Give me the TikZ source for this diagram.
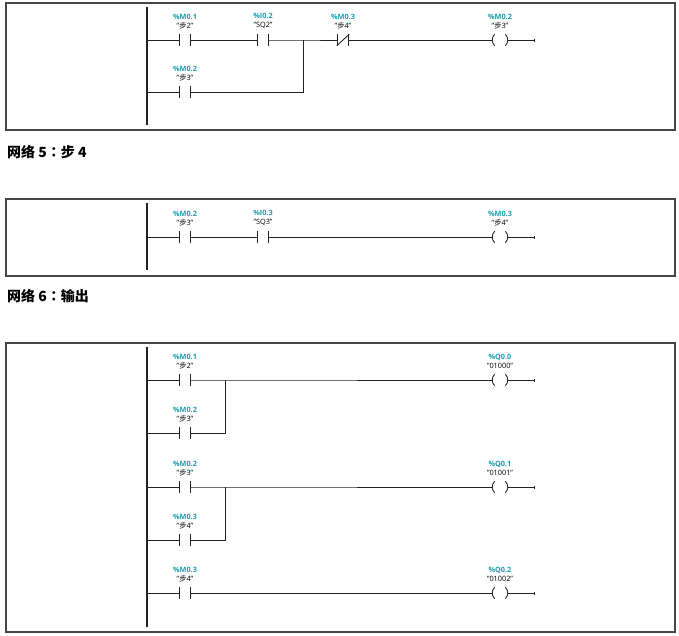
\documentclass[tikz,border=0pt]{standalone}
\usepackage{fontspec}
\setmainfont{Open Sans}
\newfontfamily\cjk{Noto Sans CJK SC}
\newfontfamily\cjkpunct{Noto Sans CJK TC}
\usepackage{tikz}
\usetikzlibrary{arrows.meta}
\definecolor{addrcol}{RGB}{20,160,175}
\definecolor{wirecol}{RGB}{35,35,35}
\definecolor{framecol}{RGB}{70,70,70}

\tikzset{
  rung/.style={draw=wirecol,line width=0.9bp},
  rail/.style={draw=wirecol,line width=1.5bp},
  frame/.style={draw=framecol,line width=1.2bp},
  heading/.style={anchor=west,inner sep=0pt,font=\fontsize{14bp}{16bp}\selectfont\cjk\bfseries},
  lbl/.style={align=center,inner sep=0.5bp,yshift=5bp,font=\fontsize{7.3bp}{9bp}\selectfont},
  contact/.style={inner sep=0pt,minimum width=10bp,minimum height=11bp,
    append after command={(\tikzlastnode.north west) edge[rung] (\tikzlastnode.south west)
      (\tikzlastnode.north east) edge[rung] (\tikzlastnode.south east)}},
  nccontact/.style={contact,
    append after command={([xshift=-1bp]\tikzlastnode.south west) edge[rung] ([xshift=1bp]\tikzlastnode.north east)}},
  coil/.style={inner sep=0pt,minimum width=15bp,minimum height=11bp,
    append after command={([xshift=2.3bp]\tikzlastnode.north west) edge[rung,bend right=45] ([xshift=2.3bp]\tikzlastnode.south west)
      ([xshift=-2.3bp]\tikzlastnode.north east) edge[rung,bend left=45] ([xshift=-2.3bp]\tikzlastnode.south east)}},
  endtick/.style={rung,-{Bar[width=3bp,line width=0.9bp]}}
}
\newcommand{\addr}[1]{\textcolor{addrcol}{\bfseries\%#1}}
\newcommand{\bu}{{\cjk 步}}
\newcommand{\colonw}{{\cjkpunct\bfseries ：}}

\begin{document}
\begin{tikzpicture}
\useasboundingbox (0bp,0bp) rectangle (679bp,-636bp);

% network 4
\draw[frame] (6bp,-3bp) rectangle (675bp,-130bp);
\coordinate (R1t) at (147bp,-7bp);
\coordinate (R1b) at (147bp,-125bp);
\draw[rail] (R1t) -- (R1b);
\coordinate (r1a) at (147bp,-40bp);
\coordinate (r1b) at (147bp,-92bp);
\coordinate (j1a) at (303bp,-40bp);
\coordinate (j1b) at (303bp,-92bp);
\coordinate (e1) at (535bp,-40bp);
\node (c11) at (185bp,-40bp)[contact,label={[lbl]above:{\addr{M0.1}\\"\bu2"}}] {};
\node (c12) at (263bp,-40bp)[contact,label={[lbl]above:{\addr{I0.2}\\"SQ2"}}] {};
\node (c13) at (343bp,-40bp)[nccontact,label={[lbl]above:{\addr{M0.3}\\"\bu4"}}] {};
\node (q1) at (500bp,-40bp)[coil,label={[lbl]above:{\addr{M0.2}\\"\bu3"}}] {};
\node (c21) at (185bp,-92bp)[contact,label={[lbl]above:{\addr{M0.2}\\"\bu3"}}] {};
\draw[rung] (r1a) -- (c11) -- (c12) -- (j1a) -- (c13) -- (q1);
\draw[rung] (r1b) -- (c21) -- (j1b) -- (j1a);
\draw[endtick] (q1) -- (e1);

\node (h5) at (7bp,-152bp)[heading] {网络 5\colonw 步 4};

% network 5
\draw[frame] (6bp,-199bp) rectangle (675bp,-276bp);
\coordinate (R2t) at (147bp,-203bp);
\coordinate (R2b) at (147bp,-270bp);
\draw[rail] (R2t) -- (R2b);
\coordinate (r2a) at (147bp,-237bp);
\coordinate (e2) at (535bp,-237bp);
\node (c41) at (185bp,-237bp)[contact,label={[lbl]above:{\addr{M0.2}\\"\bu3"}}] {};
\node (c42) at (263bp,-237bp)[contact,label={[lbl]above:{\addr{I0.3}\\"SQ3"}}] {};
\node (q4) at (500bp,-237bp)[coil,label={[lbl]above:{\addr{M0.3}\\"\bu4"}}] {};
\draw[rung] (r2a) -- (c41) -- (c42) -- (q4);
\draw[endtick] (q4) -- (e2);

\node (h6) at (7bp,-296bp)[heading] {网络 6\colonw 输出};

% network 6
\draw[frame] (6bp,-343bp) rectangle (675bp,-632bp);
\coordinate (R3t) at (147bp,-347bp);
\coordinate (R3b) at (147bp,-627bp);
\draw[rail] (R3t) -- (R3b);
\coordinate (r31) at (147bp,-380bp);
\coordinate (r32) at (147bp,-433bp);
\coordinate (r33) at (147bp,-487bp);
\coordinate (r34) at (147bp,-540bp);
\coordinate (r35) at (147bp,-593bp);
\coordinate (k1a) at (225bp,-380bp);
\coordinate (k1b) at (225bp,-433bp);
\coordinate (k2a) at (225bp,-487bp);
\coordinate (k2b) at (225bp,-540bp);
\coordinate (e31) at (535bp,-380bp);
\coordinate (e33) at (535bp,-487bp);
\coordinate (e35) at (535bp,-593bp);
\node (c31) at (185bp,-380bp)[contact,label={[lbl]above:{\addr{M0.1}\\"\bu2"}}] {};
\node (c32) at (185bp,-433bp)[contact,label={[lbl]above:{\addr{M0.2}\\"\bu3"}}] {};
\node (c33) at (185bp,-487bp)[contact,label={[lbl]above:{\addr{M0.2}\\"\bu3"}}] {};
\node (c34) at (185bp,-540bp)[contact,label={[lbl]above:{\addr{M0.3}\\"\bu4"}}] {};
\node (c35) at (185bp,-593bp)[contact,label={[lbl]above:{\addr{M0.3}\\"\bu4"}}] {};
\node (q31) at (500bp,-380bp)[coil,label={[lbl]above:{\addr{Q0.0}\\"01000"}}] {};
\node (q33) at (500bp,-487bp)[coil,label={[lbl]above:{\addr{Q0.1}\\"01001"}}] {};
\node (q35) at (500bp,-593bp)[coil,label={[lbl]above:{\addr{Q0.2}\\"01002"}}] {};
\draw[rung] (r31) -- (c31) -- (k1a) -- (q31);
\draw[rung] (r32) -- (c32) -- (k1b) -- (k1a);
\draw[rung] (r33) -- (c33) -- (k2a) -- (q33);
\draw[rung] (r34) -- (c34) -- (k2b) -- (k2a);
\draw[rung] (r35) -- (c35) -- (q35);
\draw[endtick] (q31) -- (e31);
\draw[endtick] (q33) -- (e33);
\draw[endtick] (q35) -- (e35);
\end{tikzpicture}
\end{document}
